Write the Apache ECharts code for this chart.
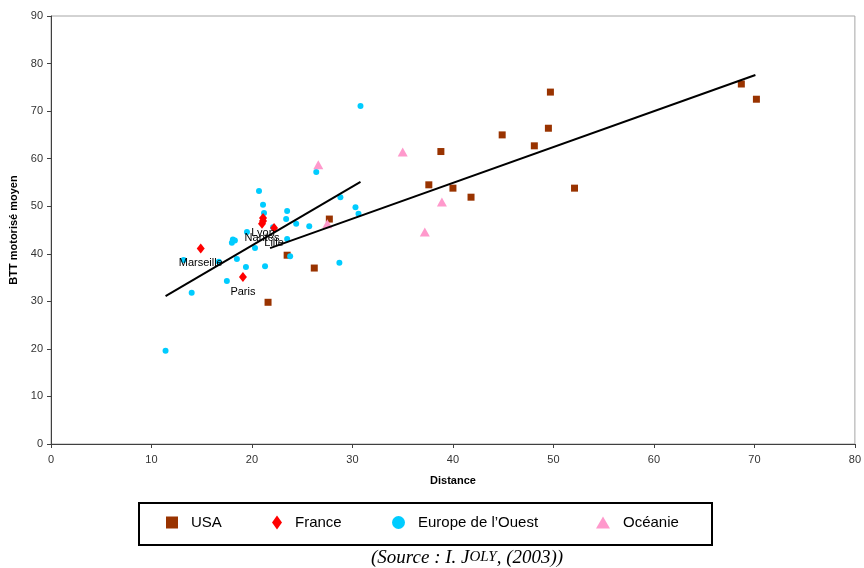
<!DOCTYPE html>
<html>
<head>
<meta charset="utf-8">
<script src="https://cdn.jsdelivr.net/npm/echarts@6/dist/echarts.min.js"></script>
<style>
  html, body { margin: 0; padding: 0; background: #fff; }
  #main { width: 864px; height: 568px; }
</style>
</head>
<body>
<div id="main"></div>
<script>
// données : [distance, BTT]
const usaPoints = [
  [70.2, 72.5], [68.7, 75.7], [49.7, 74.0], [49.5, 66.4], [48.1, 62.7],
  [44.9, 65.0], [38.8, 61.5], [37.6, 54.5], [40.0, 53.8], [41.8, 51.9],
  [52.1, 53.8], [27.7, 47.3], [23.5, 39.7], [26.2, 37.0], [21.6, 29.8]
];
const franceNames = ["Marseille", "Paris", "Lyon", "", "Nantes", "Lille"];
const francePoints = [
  [14.9, 41.1], [19.1, 35.1], [21.1, 47.5], [21.1, 46.9], [21.0, 46.3], [22.2, 45.4]
];
const europePoints = [
  [11.4, 19.6], [14.0, 31.8], [13.2, 38.7], [16.7, 38.3], [17.5, 34.3],
  [18.5, 38.9], [19.4, 37.2], [18.1, 43.0], [18.3, 42.8], [18.0, 42.3],
  [19.5, 44.6], [20.3, 41.2], [21.3, 37.4], [20.7, 53.2], [21.1, 50.3],
  [21.2, 48.6], [22.1, 45.6], [23.5, 49.0], [23.4, 47.3], [23.5, 43.1],
  [23.8, 39.5], [24.4, 46.3], [25.7, 45.8], [26.4, 57.2], [28.7, 38.1],
  [28.8, 51.9], [30.3, 49.8], [30.6, 48.4], [30.8, 71.1]
];
const oceaniePoints = [
  [26.6, 58.7], [35.0, 61.4], [38.9, 50.9], [37.2, 44.6], [27.5, 46.3]
];
// droites de tendance
const trend1 = [[11.4, 31.1], [30.8, 55.1]];
const trend2 = [[21.8, 41.2], [70.1, 77.6]];

const xTicks = [0, 80, 10];
const yTicks = [0, 90, 10];

const myChart = echarts.init(document.getElementById("main"));

const axisColor = "#404040";
const font = "Liberation Sans, Arial, sans-serif";
const serif = "Liberation Serif, Times New Roman, serif";

function legendFor(name, left, w, h) {
  return {
    data: [name],
    left: left,
    top: 515,
    itemWidth: w,
    itemHeight: h,
    padding: 0,
    selectedMode: false,
    textStyle: { fontFamily: font, fontSize: 15, color: "#000", padding: [0, 0, 0, 8] },
  };
}

myChart.setOption({
  animation: false,
  textStyle: { fontFamily: font },
  grid: {
    left: 51, right: 8, top: 16, height: 428,
    show: true, borderColor: "#a6a6a6", borderWidth: 1,
  },
  xAxis: {
    type: "value",
    min: xTicks[0], max: xTicks[1], interval: xTicks[2],
    name: "Distance",
    nameLocation: "middle",
    nameGap: 31,
    nameTextStyle: { fontWeight: "bold", fontSize: 11, color: "#000" },
    axisLine: { lineStyle: { color: axisColor, width: 1 } },
    axisTick: { show: true, length: 4, lineStyle: { color: axisColor } },
    axisLabel: { fontSize: 11, color: "#333", margin: 10 },
    splitLine: { show: false },
  },
  yAxis: {
    type: "value",
    min: yTicks[0], max: yTicks[1], interval: yTicks[2],
    name: "BTT motorisé moyen",
    nameLocation: "middle",
    nameGap: 21,
    nameTextStyle: { fontWeight: "bold", fontSize: 11, color: "#000" },
    axisLine: { show: true, lineStyle: { color: axisColor, width: 1 } },
    axisTick: { show: true, length: 4, lineStyle: { color: axisColor } },
    axisLabel: { fontSize: 11, color: "#333", margin: 8 },
    splitLine: { show: false },
  },
  legend: [
    legendFor("USA", 166, 12, 12),
    legendFor("France", 272, 10, 14),
    legendFor("Europe de l’Ouest", 392, 13, 13),
    legendFor("Océanie", 596, 14, 12),
  ],
  title: {
    text: "{a|(Source : I. J}{b|OLY}{a|, (2003))}",
    left: 366,
    top: 543,
    textStyle: {
      rich: {
        a: { fontFamily: serif, fontStyle: "italic", fontWeight: "normal", fontSize: 19, color: "#000" },
        b: { fontFamily: serif, fontStyle: "italic", fontWeight: "normal", fontSize: 15, color: "#000" },
      },
    },
  },
  graphic: [
    {
      type: "rect",
      shape: { x: 139, y: 503, width: 573, height: 42 },
      style: { fill: "none", stroke: "#000", lineWidth: 2 },
    },
  ],
  series: [
    {
      name: "USA",
      type: "scatter",
      symbol: "rect",
      symbolSize: 7,
      itemStyle: { color: "#993300", opacity: 1 },
      data: usaPoints,
      z: 2,
    },
    {
      name: "France",
      type: "scatter",
      symbol: "diamond",
      symbolSize: [8, 10],
      itemStyle: { color: "#ff0000", opacity: 1 },
      data: francePoints.map((p, i) => ({ value: p, name: franceNames[i] })),
      label: {
        show: true,
        position: "bottom",
        distance: 4,
        formatter: (p) => p.name,
        fontSize: 11,
        color: "#000",
      },
      z: 3,
    },
    {
      name: "Europe de l’Ouest",
      type: "scatter",
      symbol: "circle",
      symbolSize: 6,
      itemStyle: { color: "#00ccff", opacity: 1 },
      data: europePoints,
      z: 2,
    },
    {
      name: "Océanie",
      type: "scatter",
      symbol: "triangle",
      symbolSize: [10, 9],
      itemStyle: { color: "#ff99cc", opacity: 1 },
      data: oceaniePoints,
      z: 2,
    },
    {
      name: "tendance1",
      type: "line",
      data: trend1,
      symbol: "none",
      lineStyle: { color: "#000", width: 2 },
      z: 4,
    },
    {
      name: "tendance2",
      type: "line",
      data: trend2,
      symbol: "none",
      lineStyle: { color: "#000", width: 2 },
      z: 4,
    },
  ],
});
</script>
</body>
</html>
